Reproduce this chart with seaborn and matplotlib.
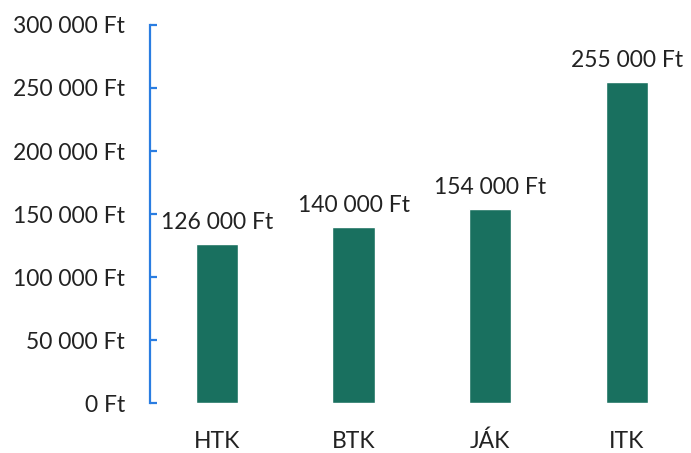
import pandas as pd
from matplotlib import pyplot as plt
import seaborn as sns

categories = ['HTK', 'BTK', 'JÁK', 'ITK']
values = [126000, 140000, 154000, 255000]
yticks = [0, 50000, 100000, 150000, 200000, 250000, 300000]


def ft(v):
    return '{:,}'.format(int(v)).replace(',', ' ') + ' Ft'


sns.set_theme(style='white')
plt.rcParams['font.family'] = ['Lato', 'DejaVu Sans']

data = pd.DataFrame({'kat': categories, 'ertek': values})

fig = plt.figure(figsize=(6.91, 4.53), dpi=100)
ax = fig.add_axes([0.217, 0.110, 0.783, 0.835])
sns.barplot(data=data, x='kat', y='ertek', color='#19705f', saturation=1,
            width=0.31, ax=ax)

for i, v in enumerate(values):
    ax.annotate(ft(v), (i, v), xytext=(0, 8), textcoords='offset points',
                ha='center', va='bottom', fontsize=16.5, color='#222222')

ax.set_ylim(0, 300000)
ax.set_xlim(-0.49, 3.47)
ax.set_yticks(yticks)
ax.set_yticklabels([ft(t) for t in yticks])
ax.set_xlabel('')
ax.set_ylabel('')

sns.despine(ax=ax, top=True, right=True, bottom=True)
ax.spines['left'].set_color('#2a7de1')
ax.spines['left'].set_linewidth(1.6)
ax.tick_params(axis='y', left=True, direction='in', length=5, width=1.6,
               color='#2a7de1', pad=18, labelsize=16.5, labelcolor='#222222')
ax.tick_params(axis='x', bottom=False, length=0, pad=20, labelsize=16.5,
               labelcolor='#222222')

fig.savefig('out.png', dpi=100)
